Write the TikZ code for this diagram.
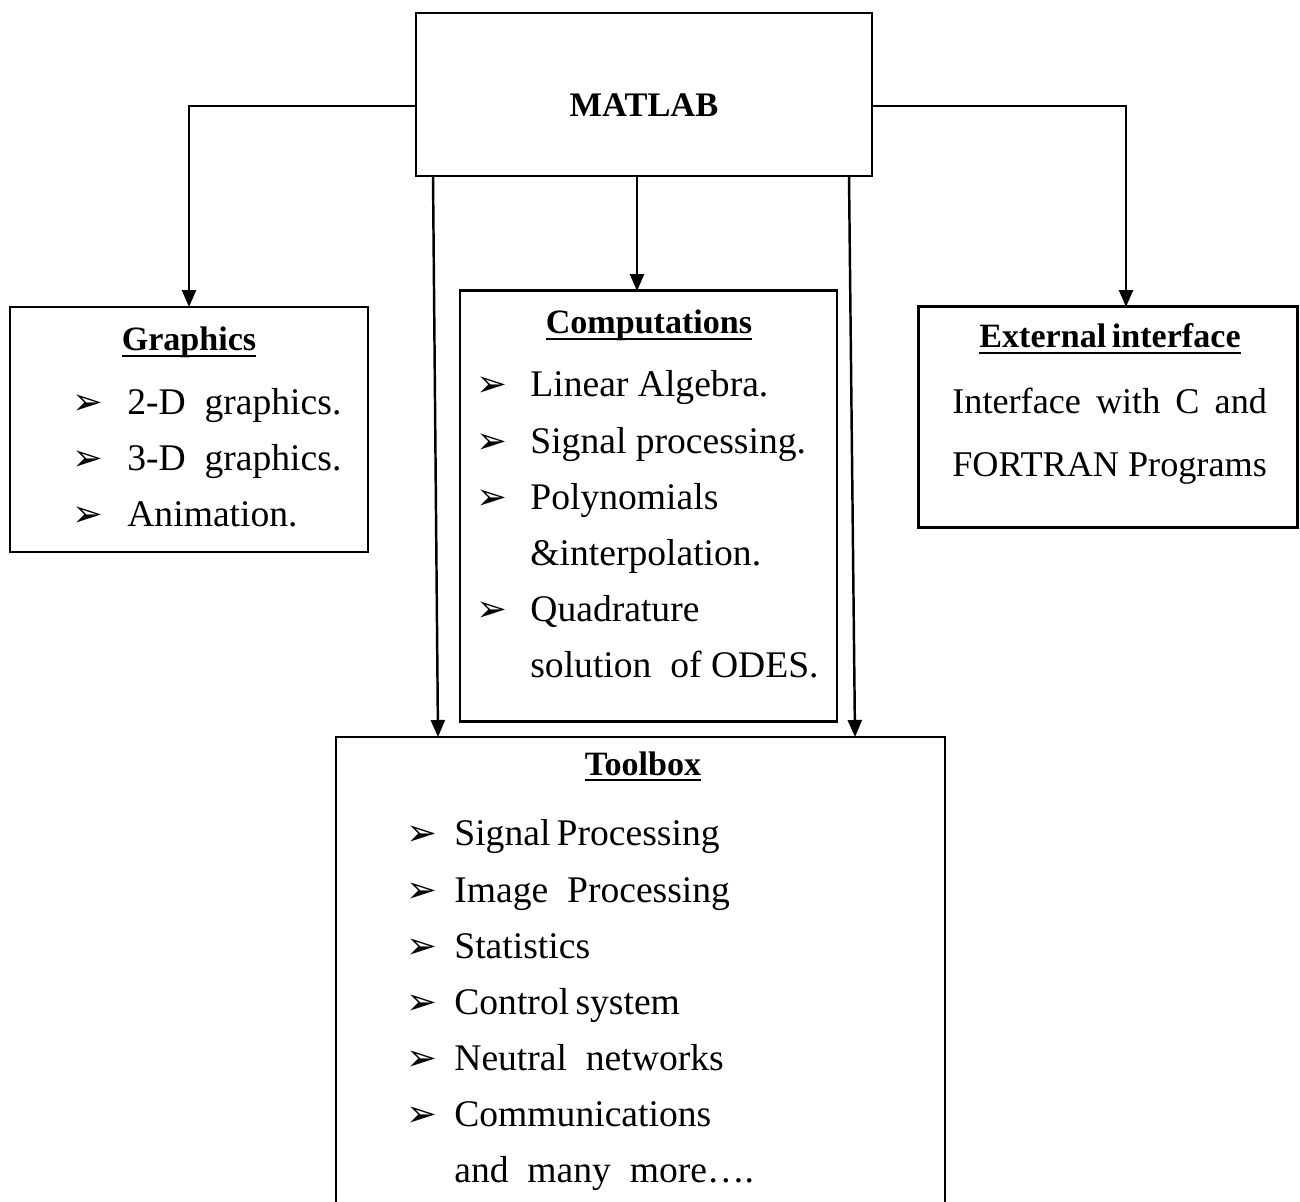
\documentclass[tikz,border=0pt]{standalone}
\usepackage{fontspec}
\setmainfont{Liberation Serif}
\newfontfamily\symf{DejaVu Sans}
\usetikzlibrary{arrows.meta}
\newcommand\myul[1]{\setbox0\hbox{#1}\leavevmode\rlap{\copy0}\rule[-3.6pt]{\wd0}{1.1pt}}
\tikzset{
  box/.style={draw, line width=1.3pt, inner sep=0pt},
  conn/.style={line width=1.4pt, -{Triangle[length=0.34cm,width=0.28cm]}},
  txt/.style={inner sep=0pt, anchor=base west, font=\fontsize{21.4}{24}\selectfont},
  ttl/.style={inner sep=0pt, anchor=base, font=\fontsize{19.4}{24}\selectfont\bfseries},
  bul/.style={inner sep=0pt, anchor=base west, font=\symf\fontsize{21}{24}\selectfont}
}
\begin{document}
\begin{tikzpicture}[x=0.02cm,y=-0.02cm]
\clip (0,0) rectangle (1300,1202);
\fill[white] (0,0) rectangle (1300,1202);
% boxes
\node[box, minimum width=9.12cm, minimum height=3.26cm] (matlab) at (644,94.5) {};
\node[box, minimum width=7.16cm, minimum height=4.9cm] (graphics) at (189,429.5) {};
\node[box, minimum width=7.54cm, minimum height=8.62cm] (comp) at (648.5,506) {};
\node[box, minimum width=7.58cm, minimum height=4.42cm] (ext) at (1108,417) {};
\node[box, minimum width=12.18cm, minimum height=10cm] (tool) at (640.5,987) {};
% connector anchors
\coordinate (ml) at (416,106);
\coordinate (mr) at (872,106);
\coordinate (gtop) at (189,307);
\coordinate (etop) at (1126,307);
\coordinate (mb1) at (433,176);
\coordinate (mb2) at (637,176);
\coordinate (mb3) at (849,176);
\coordinate (ctop) at (637,291);
\coordinate (t1) at (438,737);
\coordinate (t2) at (855,737);
\draw[conn] (ml) -| (gtop);
\draw[conn] (mr) -| (etop);
\draw[conn] (mb2) -- (ctop);
\draw[conn] (mb1) -- (t1);
\draw[conn] (mb3) -- (t2);
% MATLAB
\node[ttl, font=\fontsize{19.6}{24}\selectfont\bfseries] (mtxt) at (644,117) {MATLAB};
% Graphics
\node[ttl] (gt) at (189,351) {\myul{Graphics}};
\foreach \y/\t [count=\i] in {414/2-D\ \ graphics., 470/3-D\ \ graphics., 526/Animation.}{
  \node[bul] (gb\i) at (72,\y) {➢};
  \node[txt] (gx\i) at (127,\y) {\t};
}
% Computations
\node[ttl] (ct) at (649,334) {\myul{Computations}};
\foreach \y [count=\i] in {397,453,509,621}{
  \node[bul] (cb\i) at (476,\y) {➢};
}
\node[txt] (cx1) at (530,397) {Linear Algebra.};
\node[txt] (cx2) at (530,453) {Signal processing.};
\node[txt] (cx3) at (530,509) {Polynomials};
\node[txt] (cx4) at (530,565) {\&interpolation.};
\node[txt] (cx5) at (530,621) {Quadrature};
\node[txt] (cx6) at (530,677) {solution\ \ of\ ODES.};
% External interface
\node[ttl] (et) at (1110,348) {\myul{External\,interface}};
\node[txt, font=\fontsize{20.6}{24}\selectfont] (ex1) at (952,413) {Interface\ \,with\ \,C\ \,and};
\node[txt, font=\fontsize{20.6}{24}\selectfont] (ex2) at (952,476) {FORTRAN Programs};
% Toolbox
\node[ttl] (tt) at (643,775) {\myul{Toolbox}};
\foreach \y/\t [count=\i] in {845/Signal\,Processing, 902/Image\ \ Processing, 958/Statistics, 1014/Control\,system, 1070/Neutral\ \ networks, 1126/Communications}{
  \node[bul] (tb\i) at (406,\y) {➢};
  \node[txt] (tx\i) at (454,\y) {\t};
}
\node[txt] (tx7) at (454,1182) {and\ \ many\ \ more\dots.};
\end{tikzpicture}
\end{document}
